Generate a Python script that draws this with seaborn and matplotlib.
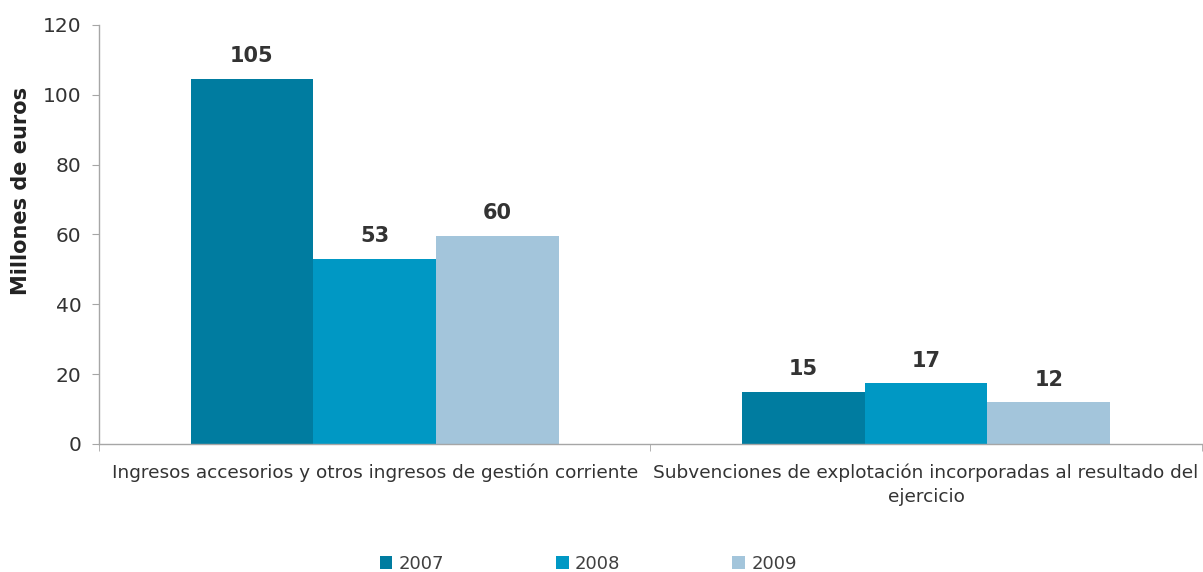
import pandas as pd
import matplotlib.pyplot as plt
import seaborn as sns

# Data (millions of euros)
categories = [
    "Ingresos accesorios y otros ingresos de gestión corriente",
    "Subvenciones de explotación incorporadas al resultado del\nejercicio",
]
years = ["2007", "2008", "2009"]
values_2007 = [104.6, 14.9]
values_2008 = [53.0, 17.4]
values_2009 = [59.6, 12.0]

df = pd.DataFrame({
    "categoria": categories * 3,
    "year": [y for y in years for _ in categories],
    "valor": values_2007 + values_2008 + values_2009,
})

colors = ["#007CA0", "#0098C4", "#A3C5DB"]

sns.set_style("white")
plt.rcParams["font.family"] = ["DejaVu Sans"]

fig = plt.figure(figsize=(12.03, 5.72), dpi=100)
ax = fig.add_axes([0.0823, 0.2238, 0.9167, 0.7325])

sns.barplot(data=df, x="categoria", y="valor", hue="year", palette=colors,
            width=0.668, gap=0, saturation=1, linewidth=0, ax=ax)

# Value labels on top of the bars
for cont in ax.containers:
    ax.bar_label(cont, fmt="{:.0f}", padding=9, fontsize=15,
                 fontweight="bold", color="#333333")

ax.set_xlim(-0.5, 1.5)
ax.set_ylim(0, 120)
ax.set_yticks(range(0, 121, 20))
ax.set_xlabel("")
ax.set_ylabel("Millones de euros", fontsize=15, fontweight="bold",
              color="#222222")
ax.yaxis.set_label_coords(-0.0617, 0.605)

for s in ["top", "right"]:
    ax.spines[s].set_visible(False)
for s in ["left", "bottom"]:
    ax.spines[s].set_color("#A6A6A6")
    ax.spines[s].set_linewidth(1)

ax.tick_params(axis="y", labelsize=14.5, colors="#A6A6A6", labelcolor="#333333",
               direction="out", length=5, left=True, pad=7.5)
ax.tick_params(axis="x", labelsize=13.3, labelcolor="#333333", length=0, pad=14)
for lbl in ax.get_xticklabels():
    lbl.set_linespacing(1.45)
ax.set_xticks([-0.5, 0.5, 1.5], minor=True)
ax.tick_params(axis="x", which="minor", direction="out", length=5,
               colors="#A6A6A6", bottom=True)

handles, labels = ax.get_legend_handles_labels()
ax.get_legend().remove()
fig.legend(handles, labels, loc="lower center", bbox_to_anchor=(0.489, -0.03),
           ncol=3, frameon=False, fontsize=13, handlelength=0.7,
           handleheight=0.7, handletextpad=0.35, columnspacing=6.2,
           labelcolor="#404040")

fig.savefig("out.png", dpi=100)
